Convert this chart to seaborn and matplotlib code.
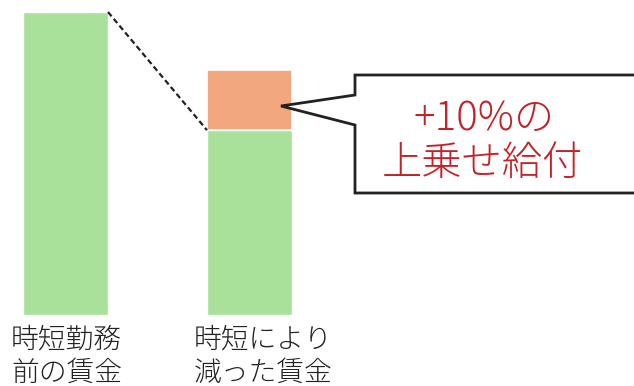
import matplotlib
matplotlib.use("Agg")
import matplotlib.pyplot as plt
from matplotlib.patches import Polygon
import seaborn as sns
import pandas as pd

# data
categories = ["時短勤務\n前の賃金", "時短により\n減った賃金"]
wage_values = [100, 61]          # green bars
supplement_value = [20]          # orange stacked part on second bar
callout_lines = ["+10%の", "上乗せ給付"]

sns.set_theme(style="white")
plt.rcParams["font.family"] = ["Noto Sans CJK JP", "DejaVu Sans"]

W, H = 634, 386
fig = plt.figure(figsize=(W / 100, H / 100), dpi=100)
ax = fig.add_axes([0, 0, 1, 1])

green = "#a9e19a"
orange = "#f2a77f"
bar_w = 85 / 184

df = pd.DataFrame({"cat": categories, "val": wage_values})
sns.barplot(data=df, x="cat", y="val", color=green, saturation=1,
            width=bar_w, ax=ax)
ax.bar(1, supplement_value[0], bottom=wage_values[1], width=bar_w,
       color=orange, edgecolor="white", linewidth=1.2)

# scales: map to pixel layout
ax.set_xlim(-65.5 / 184, 1 + (W - 249.5) / 184)
ax.set_ylim(-(H - 315) / 303 * 100, 100 + 12 / 303 * 100)
ax.axis("off")

# dashed connector from top of first bar to top of reduced wage
ax.plot([0 + bar_w / 2, 1 - bar_w / 2], [wage_values[0], wage_values[1]],
        ls=(0, (2.5, 1.5)), color="#222222", lw=1.6)

def fp(x, y):
    return (x / W, 1 - y / H)

# callout box
pts = [fp(355, 75), fp(645, 75), fp(645, 193), fp(355, 193),
       fp(355, 125), fp(281, 106), fp(355, 95)]
ax.add_patch(Polygon(pts, closed=True, transform=fig.transFigure,
                     facecolor="white", edgecolor="#222222", lw=2.0,
                     clip_on=False, joinstyle="miter"))

red = "#c42229"
fig.text(*fp(484, 119), callout_lines[0], ha="center", va="center",
         fontsize=29, color=red, fontweight="light")
fig.text(*fp(482, 164), callout_lines[1], ha="center", va="center",
         fontsize=29, color=red, fontweight="light")

# category labels
label_x = [11, 194]
for lx, lab in zip(label_x, categories):
    l1, l2 = lab.split("\n")
    fig.text(*fp(lx, 339), l1, ha="left", va="center", fontsize=20,
             color="#222222", fontweight="light")
    fig.text(*fp(lx, 373), l2, ha="left", va="center", fontsize=20,
             color="#222222", fontweight="light")

fig.savefig("out.png", dpi=100, facecolor="white")
